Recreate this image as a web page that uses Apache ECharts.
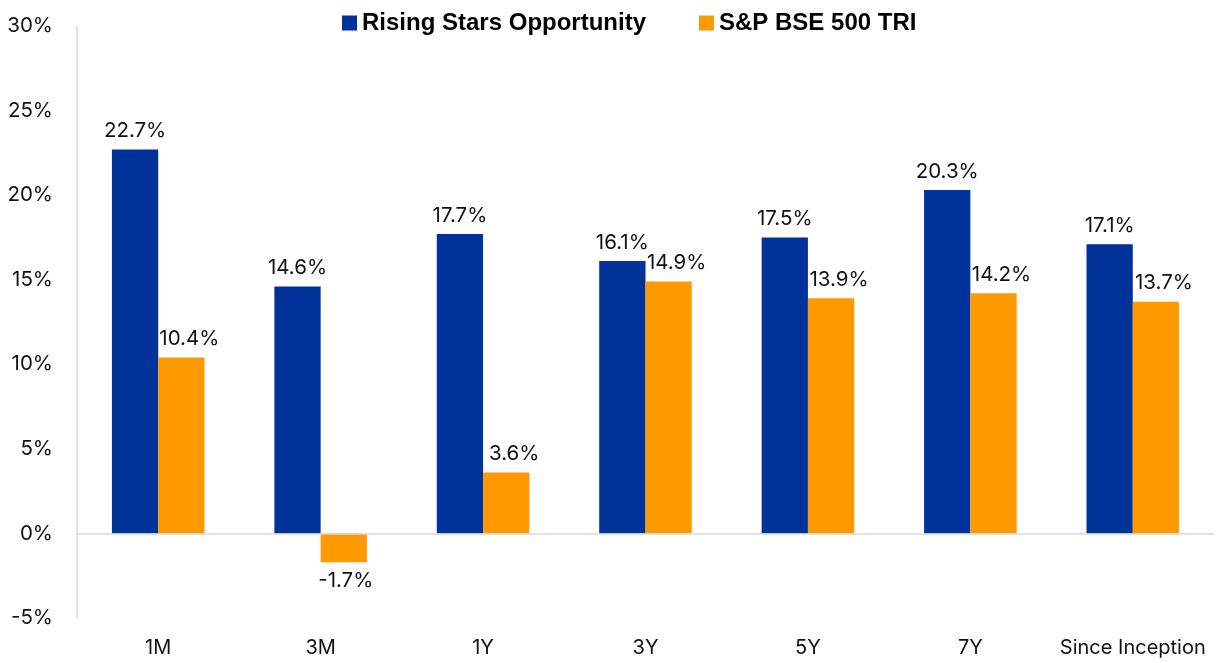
<!DOCTYPE html>
<html>
<head>
<meta charset="utf-8">
<style>
  html, body { margin: 0; padding: 0; background: #fff; }
  #chart { width: 1217px; height: 663px; }
</style>
<script src="https://cdn.jsdelivr.net/npm/echarts@6/dist/echarts.min.js"></script>
</head>
<body>
<div id="chart"></div>
<script>
const categories = ['1M', '3M', '1Y', '3Y', '5Y', '7Y', 'Since Inception']
const risingStars = [22.7, 14.6, 17.7, 16.1, 17.5, 20.3, 17.1]
const bse500 = [10.4, -1.7, 3.6, 14.9, 13.9, 14.2, 13.7]
const seriesNames = ['Rising Stars Opportunity', 'S&P BSE 500 TRI']

const palette = {
  blue: '#003399',
  orange: '#ff9900',
  axis: '#d9d9d9',
  text: '#111',
}
const font = 'Inter, "Noto Sans", sans-serif'

const pct = (v) => `${v.toFixed(1)}%`

// Excel nudged the positive orange labels a little to the right of the bar centre
function barSeries(name, values, color, nudge) {
  return {
    name,
    type: 'bar',
    barGap: 0,
    barCategoryGap: '43%',
    itemStyle: { color },
    data: values.map((v) => ({
      value: v,
      label: v < 0
        ? { position: 'bottom', offset: [2, 0] }
        : { position: 'top', offset: [nudge, 0] },
    })),
    label: {
      show: true,
      color: palette.text,
      fontSize: 20.5,
      fontFamily: font,
      distance: 8,
      formatter: (p) => pct(p.value),
    },
  }
}

const chart = echarts.init(document.getElementById('chart'), null, { renderer: 'canvas' })

const series = [
  barSeries(seriesNames[0], risingStars, palette.blue, 0),
  barSeries(seriesNames[1], bse500, palette.orange, 8),
]
series[0].markLine = {
  silent: true,
  symbol: 'none',
  label: { show: false },
  lineStyle: { color: palette.axis, width: 1.5, type: 'solid' },
  data: [{ yAxis: 0 }],
  animation: false,
}

chart.setOption({
  backgroundColor: '#fff',
  animation: false,
  legend: {
    top: 6,
    left: 337,
    itemWidth: 15,
    itemHeight: 15,
    itemGap: 53,
    icon: 'rect',
    textStyle: {
      fontSize: 24,
      fontWeight: 'bold',
      color: '#000',
      fontFamily: '"Liberation Sans", Arial, sans-serif',
    },
  },
  grid: { left: 77, right: 3, top: 26, bottom: 45, containLabel: false },
  xAxis: {
    type: 'category',
    data: categories,
    axisLine: { show: false, onZero: false },
    axisTick: { show: false },
    axisLabel: { interval: 0, color: palette.text, fontSize: 20, fontFamily: font, margin: 20 },
    splitLine: { show: false },
  },
  yAxis: {
    type: 'value',
    min: -5,
    max: 30,
    interval: 5,
    axisLine: { show: true, lineStyle: { color: palette.axis, width: 1.5 } },
    axisTick: { show: false },
    axisLabel: {
      color: palette.text,
      fontSize: 20.5,
      fontFamily: font,
      margin: 24,
      formatter: (v) => `${v}%`,
    },
    splitLine: { show: false },
  },
  series,
})
</script>
</body>
</html>
